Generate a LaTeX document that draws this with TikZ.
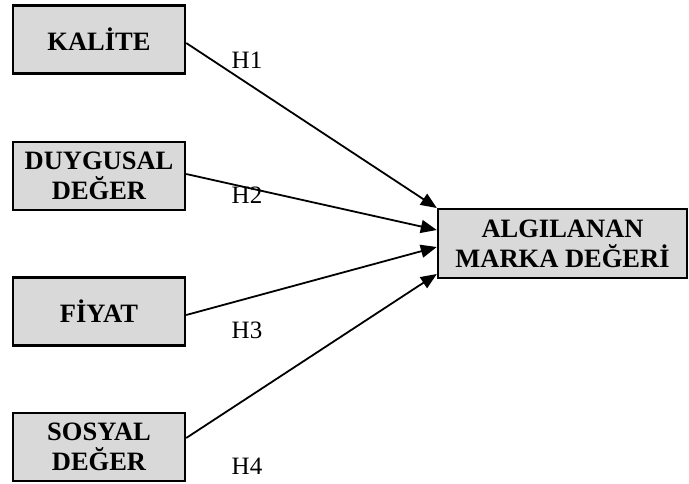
\documentclass[tikz,border=0pt]{standalone}
\usepackage{fontspec}
\setmainfont{Liberation Serif}
\usetikzlibrary{arrows.meta,calc}
\definecolor{boxgray}{HTML}{D9D9D9}
\begin{document}
\begin{tikzpicture}[x=1pt,y=-1pt,
  factor/.style={draw=black, line width=2.4pt, fill=boxgray,
    minimum width=172pt, minimum height=68pt, inner sep=0pt, align=center,
    font=\fontsize{26.5}{30}\selectfont\bfseries},
  link/.style={line width=1.8pt, -{Triangle[length=16pt,width=13pt]}},
  hyp/.style={font=\fontsize{25}{30}\selectfont, inner sep=0pt}]

\fill[white] (0,0) rectangle (689,483);
\useasboundingbox (0,0) rectangle (689,483);

% independent factors
\node[factor] (kal) at (99,39.5) {KALİTE};
\node[factor] (duy) at (99,176) {DUYGUSAL\\DEĞER};
\node[factor] (fiy) at (99,311.5) {FİYAT};
\node[factor] (sos) at (99,447) {SOSYAL\\DEĞER};

% dependent variable
\node[factor, minimum width=249pt, minimum height=69pt] (alg) at (562.5,243.5)
  {ALGILANAN\\MARKA DEĞERİ};

% hypothesised paths
\draw[link] ($(kal.east)+(0,3.5)$) -- ($(alg.west)+(0,-35.5)$);
\draw[link] ($(duy.east)+(0,-2)$) -- ($(alg.west)+(0,-13.5)$);
\draw[link] ($(fiy.east)+(0,3.5)$) -- ($(alg.west)+(0,3.5)$);
\draw[link] ($(sos.east)+(0,-9)$) -- ($(alg.west)+(0,30.5)$);

% path labels
\node[hyp] (h1) at (247,60) {H1};
\node[hyp] (h2) at (247,195) {H2};
\node[hyp] (h3) at (247,330) {H3};
\node[hyp] (h4) at (247,466) {H4};
\end{tikzpicture}
\end{document}
